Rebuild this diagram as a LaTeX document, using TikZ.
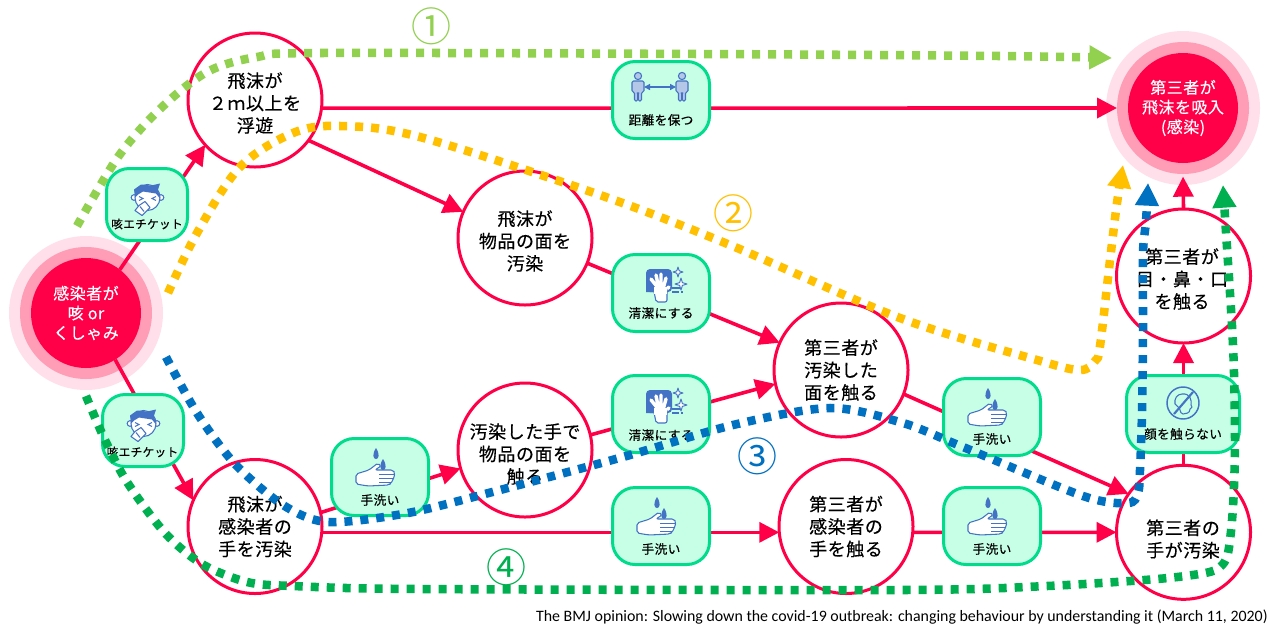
\documentclass[tikz,border=0pt]{standalone}
\usepackage{fontspec}
\usetikzlibrary{arrows.meta,shapes.geometric}
\setmainfont{Noto Sans CJK JP}
\newfontfamily\jpb[FakeBold=0.35,LetterSpace=3]{Noto Sans CJK JP}
\newfontfamily\jpn{Noto Sans CJK JP}
\newfontfamily\capfont{Carlito}
\definecolor{cred}{HTML}{FF0048}
\definecolor{cmid}{HTML}{FF9DB6}
\definecolor{cout}{HTML}{FFE0EA}
\definecolor{bfill}{HTML}{C6FFE6}
\definecolor{bline}{HTML}{00DC8C}
\definecolor{cone}{HTML}{92D050}
\definecolor{ctwo}{HTML}{FFC000}
\definecolor{cthree}{HTML}{0070C0}
\definecolor{cfour}{HTML}{00B050}
\definecolor{icblue}{HTML}{4472C4}
\definecolor{iclight}{HTML}{B4C7E7}
\tikzset{
  x=0.75pt,y=-0.75pt,
  stage/.style={circle,draw=cred,line width=2.25pt,fill=white,minimum size=100.5pt,inner sep=0pt,outer sep=0pt,align=center,font=\jpb\fontsize{13.5}{16.8}\selectfont},
  stagetext/.style={inner sep=0pt,align=center,font=\jpb\fontsize{13.5}{16.8}\selectfont},
  ringout/.style={circle,fill=cout,minimum size=115.5pt,inner sep=0pt,outer sep=0pt},
  ringmid/.style={circle,fill=cmid,minimum size=99pt,inner sep=0pt,outer sep=0pt},
  ringin/.style={circle,fill=cred,text=white,minimum size=82.5pt,inner sep=0pt,outer sep=0pt,align=center,font=\jpb\fontsize{12}{14.8}\selectfont},
  ctrl/.style={rectangle,rounded corners=17pt,draw=bline,fill=bfill,line width=2.25pt,minimum width=72.75pt,minimum height=57.75pt,inner sep=0pt},
  ctrlwide/.style={ctrl,minimum width=84.75pt},
  ctrlcough/.style={ctrl,minimum width=60.75pt,minimum height=54pt},
  ctrltext/.style={inner sep=0pt,font=\jpb\fontsize{9.5}{11}\selectfont},
  coughtext/.style={inner sep=0pt,font=\jpb\fontsize{8.7}{11}\selectfont},
  redline/.style={draw=cred,line width=2.7pt,-{Triangle[length=15pt,width=15pt]}},
  route/.style={line width=6.4pt,dash pattern=on 6pt off 6pt},
  routetip/.style={-{Triangle[length=17pt,width=17pt]}},
  numlabel/.style={inner sep=0pt,font=\jpn\fontsize{30}{32}\selectfont},
  icon/.style={draw=icblue,line width=0.8pt,line join=round},
  handicon/.pic={
    \fill[icblue] (-4,-29) .. controls (0,-23) and (-1,-18) .. (-4,-18) .. controls (-7,-18) and (-8,-23) .. (-4,-29);
    \fill[icblue] (3,-18) .. controls (7,-12) and (6,-7) .. (3,-7) .. controls (0,-7) and (-1,-12) .. (3,-18);
    \draw[icon,fill=white,rounded corners=1.5pt] (-24,-3) -- (-11,-7) -- (-2,-14) -- (1,-11) -- (-5,-7) -- (13,-7) -- (15,-4) -- (14,0) -- (13,3) -- (11,6) -- (9,8) -- (-12,9) -- (-24,7) -- cycle;
    \draw[icon,line width=0.5pt] (-1,-3) -- (14,-3) (-1,1) -- (13,1) (-1,5) -- (11,5);
  },
  cleanicon/.pic={
    \fill[icblue,rounded corners=3pt] (-15,-24) rectangle (11,-1);
    \fill[icblue] (-15,-10) -- (-8,-1) -- (-15,-1) -- cycle;
    \draw[white,line width=2.6pt,line cap=round] (-2,-4) -- (-10,-14) (-2,-4) -- (-5,-18) (0,-4) -- (0,-19) (2,-4) -- (5,-15) (3,-2) -- (8,-6);
    \draw[icon,fill=white,rounded corners=1.5pt] (-8,-5) -- (-6,3) -- (-5,9) -- (6,9) -- (6,1) -- (6,-5) -- cycle;
    \fill[white] (-7.5,-6) rectangle (5.5,1);
    \draw[icon] (11,-5) -- (21,-5) (11,-1) -- (18,-1);
    \fill[icblue] (20,-2) rectangle (21.5,-0.5);
    \draw[icon,line width=0.7pt,fill=white] (17,-26) -- (18.2,-22.2) -- (22,-21) -- (18.2,-19.8) -- (17,-16) -- (15.8,-19.8) -- (12,-21) -- (15.8,-22.2) -- cycle;
    \draw[icon,line width=0.7pt,fill=white] (20,-15) -- (21.4,-10.4) -- (26,-9) -- (21.4,-7.6) -- (20,-3) -- (18.6,-7.6) -- (14,-9) -- (18.6,-10.4) -- cycle;
  },
  faceicon/.pic={
    \draw[icon,fill=white] (-13,-7) circle (2.8) (14,-7) circle (2.8);
    \draw[icon,fill=white] (0.5,-7) ellipse (12.5 and 13);
    \fill[icblue] (-12,-7) -- (-13,-15) -- (-6,-20) -- (4,-19) -- (13,-21) -- (11,-15) -- (13,-6) -- (9,-11) -- (-4,-13) -- (-9,-10) -- cycle;
    \draw[icblue,line width=0.7pt] (-8,-8) -- (-4,-6) -- (-8,-4) (9,-8) -- (5,-6) -- (9,-4);
    \draw[icon,fill=white] (-2,-3) -- (3,3) -- (-5,11) -- (-12,6) -- (-8,1) -- cycle;
    \draw[icon] (-7,2) -- (-3,7);
  },
  personpic/.pic={
    \draw[icon,fill=iclight] (0,-24) circle (3.6);
    \draw[icon,fill=iclight,rounded corners=1pt] (-6,-19) -- (6,-19) -- (6,-8) -- (3.5,-8) -- (3.5,1) -- (0.4,1) -- (0.4,-7) -- (-0.4,-7) -- (-0.4,1) -- (-3.5,1) -- (-3.5,-8) -- (-6,-8) -- cycle;
  },
  distanceicon/.pic={
    \pic at (-23,0) {personpic};
    \pic at (21,0) {personpic};
    \draw[icblue,line width=1pt,{Triangle[length=4.5pt,width=4.5pt]}-{Triangle[length=4.5pt,width=4.5pt]}] (-17,-13) -- (15,-13);
  },
  noface/.pic={
    \draw[icon,line width=1.1pt,fill=bfill] (0,-11) circle (16);
    \draw[icon,fill=bfill] (-1,-20) .. controls (7,-21) and (9,-14) .. (8,-9) -- (9,-7) -- (7,-5) .. controls (7,-1) and (3,0) .. (0,0) .. controls (-4,-1) and (-2,-6) .. (-5,-7) -- (-8,-10) .. controls (-9,-15) and (-6,-20) .. (-1,-20) -- cycle;
    \draw[icblue,line width=1.6pt] (-9,0) -- (10,-22);
  },
}
\begin{document}
\begin{tikzpicture}
\useasboundingbox[fill=white] (0,0) rectangle (1273,633);
% sources and target
\node[ringout] (srcout) at (86,313) {};
\node[ringmid] (srcmid) at (86,313) {};
\node[ringin] (src) at (86,313) {感染者が\\咳 or\\くしゃみ};
\node[ringout] (tgtout) at (1183,108) {};
\node[ringmid] (tgtmid) at (1183,108) {};
\node[ringin] (tgt) at (1183,108) {第三者が\\飛沫を吸入\\(感染)};
% stage nodes
\node[stage] (air) at (255,100) {};
\node[stagetext] (airt) at (255,103) {飛沫が\\２ｍ以上を\\浮遊};
\node[stage] (hand) at (255,526.5) {飛沫が\\感染者の\\手を汚染};
\node[stage] (surf) at (525,238) {};
\node[stagetext] (surft) at (525,241) {飛沫が\\物品の面を\\汚染};
\node[stage] (touchsurf) at (525,450) {};
\node[stagetext] (touchsurft) at (525,454) {汚染した手で\\物品の面を\\触る};
\node[stage] (third) at (841,370) {第三者が\\汚染した\\面を触る};
\node[stage] (thirdhand) at (846,526.5) {第三者が\\感染者の\\手を触る};
\node[stage] (own) at (1183.5,532.3) {};
\node[stagetext] (ownt) at (1183,539) {第三者の\\手が汚染};
\node[stage] (eyes) at (1183.5,276) {};
\node[stagetext] (eyest) at (1182,279) {第三者が\\目・鼻・口\\を触る};
% connectors
\draw[redline] (src.52) -- (air.222.7);
\draw[redline] (src.-58) -- (hand.157);
\draw[redline] (air.-7) -- (tgtmid.west);
\draw[redline] (air.-37) -- (surf.157);
\draw[redline] (surf.-22.4) -- (third.156);
\draw[redline] (hand.12) -- (touchsurf.196);
\draw[redline] (touchsurf.13.4) -- (third.192.6);
\draw[redline] (hand.-5) -- (thirdhand.185);
\draw[redline] (thirdhand.-5) -- (own.west);
\draw[redline] (third.-21) -- (own.145);
\draw[redline] (own.north) -- (eyes.south);
\draw[redline,shorten >=2pt] (eyes.north) -- (tgtmid.south);
% control boxes
\node[ctrlcough] (coughA) at (147,204.5) {};
\pic at (147,204.5) {faceicon};
\node[coughtext] (coughAt) at (147,224) {咳エチケット};
\node[ctrlcough] (coughB) at (143,430.5) {};
\pic at (143,430.5) {faceicon};
\node[coughtext] (coughBt) at (142.5,452) {咳エチケット};
\node[ctrl] (dist) at (661,100) {};
\pic at (661,100) {distanceicon};
\node[ctrltext] (distt) at (661,120) {距離を保つ};
\node[ctrl] (cleanA) at (661,293) {};
\pic at (661,293) {cleanicon};
\node[ctrltext] (cleanAt) at (661,313) {清潔にする};
\node[ctrl] (cleanB) at (661,414) {};
\pic at (661,414) {cleanicon};
\node[ctrltext] (cleanBt) at (661,435) {清潔にする};
\node[ctrl] (washA) at (380,477) {};
\pic at (380,477) {handicon};
\node[ctrltext] (washAt) at (380,500) {手洗い};
\node[ctrl] (washB) at (661,526) {};
\pic at (661,526) {handicon};
\node[ctrltext] (washBt) at (661,549) {手洗い};
\node[ctrl] (washC) at (992,417) {};
\pic at (992,417) {handicon};
\node[ctrltext] (washCt) at (992,439) {手洗い};
\node[ctrl] (washD) at (992,526) {};
\pic at (992,526) {handicon};
\node[ctrltext] (washDt) at (992,549) {手洗い};
\node[ctrlwide] (noface) at (1183,414) {};
\pic at (1183,414) {noface};
\node[ctrltext] (nofacet) at (1183,434) {顔を触らない};
% dotted routes
\coordinate (oneS) at (77,226);
\coordinate (oneE) at (1112,58);
\draw[route,routetip,draw=cone] plot[smooth,tension=0.55] coordinates {(oneS) (118,157) (160,109) (207,72) (257,57) (320,53) (700,54) (1000,56) (oneE)};
\coordinate (twoS) at (168,293);
\coordinate (twoE) at (1123,165);
\draw[route,routetip,draw=ctwo] plot[smooth,tension=0.55] coordinates {(twoS) (197,233) (240,167) (293,133) (340,126) (420,137) (600,195) (730,245) (900,318) (1037,360) (1080,370) (1095,361) (1100,346) (1110,260) (1117,203) (twoE)};
\coordinate (threeS) at (166,357);
\coordinate (threeE) at (1148,183);
\draw[route,routetip,draw=cthree] plot[smooth,tension=0.5] coordinates {(threeS) (197,413) (235,464) (283,505) (328,522) (408,513) (500,490) (623,457) (733,425) (830,408) (903,423) (963,447) (1083,496) (1128,503) (1138,493) (1140,470) (1142,413) (1143,333) (1143,253) (1146,221) (threeE)};
\coordinate (fourS) at (86,396);
\coordinate (fourE) at (1223,185);
\draw[route,routetip,draw=cfour] plot[smooth,tension=0.5] coordinates {(fourS) (105,440) (127,482) (165,533) (202,564) (247,582) (293,586) (420,589) (902,590) (1047,586) (1157,579) (1205,573) (1220,567) (1228,553) (1233,507) (1235,440) (1233,345) (1225,217) (fourE)};
% route numbers
\node[numlabel,text=cone] (n1) at (431,26) {①};
\node[numlabel,text=ctwo] (n2) at (733,213) {②};
\node[numlabel,text=cthree] (n3) at (757,456) {③};
\node[numlabel,text=cfour] (n4) at (506,567) {④};
\node[inner sep=0pt,anchor=east,font=\capfont\fontsize{11.93}{14}\selectfont] (cap) at (1268,617) {The BMJ opinion: Slowing down the covid-19 outbreak: changing behaviour by understanding it (March 11, 2020)};
\end{tikzpicture}
\end{document}
